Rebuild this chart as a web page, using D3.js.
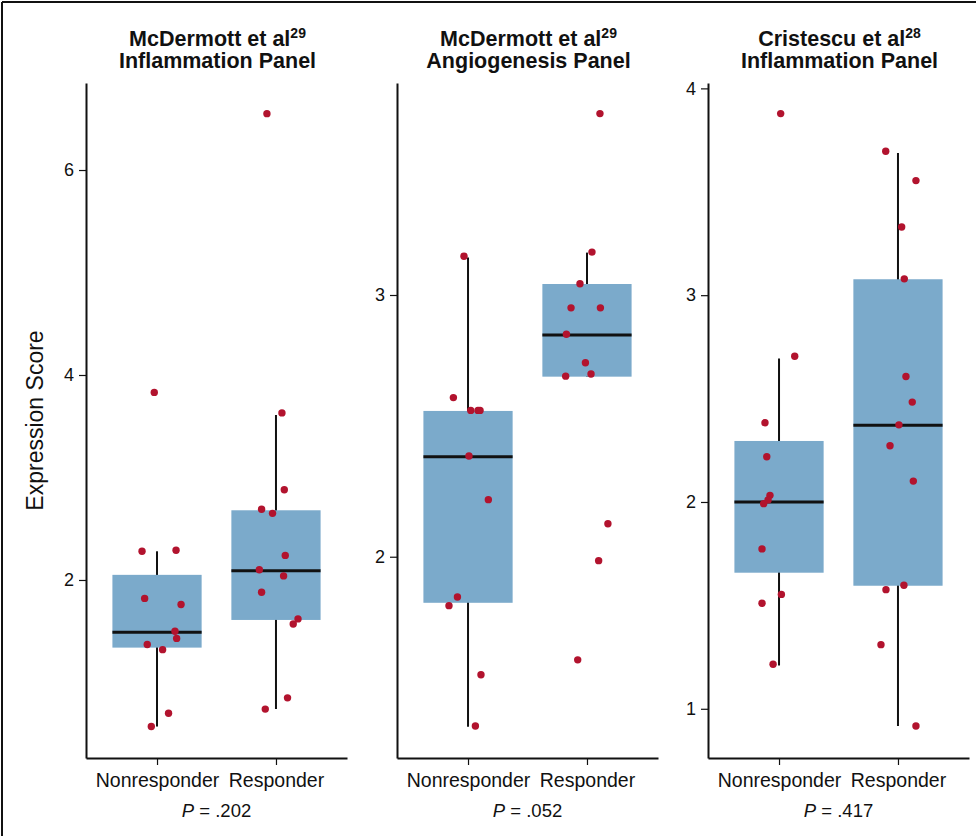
<!DOCTYPE html>
<html>
<head>
<meta charset="utf-8">
<script src="https://cdn.jsdelivr.net/npm/d3@7"></script>
<style>
  body { margin: 0; background: #fff; }
  svg { display: block; font-family: "Liberation Sans", Arial, sans-serif; }
</style>
</head>
<body>
<div id="chart"></div>
<script>
// groups on every panel
var groups = ["Nonresponder", "Responder"]

// panel titles (line 1, superscript ref, line 2) and p values
var titles = [
  ["McDermott et al", "29", "Inflammation Panel"],
  ["McDermott et al", "29", "Angiogenesis Panel"],
  ["Cristescu et al", "28", "Inflammation Panel"]
]
var pValues = [".202", ".052", ".417"]

// y axis limits and tick labels per panel
var yLimits = [[0.263, 6.849], [1.231, 3.810], [0.762, 4.026]]
var yTicks = [[2, 4, 6], [2, 3], [1, 2, 3, 4]]

// box stats: [whisker low, q1, median, q3, whisker high]
var boxNonresponder = [
  [0.57, 1.34, 1.49, 2.05, 2.28],
  [1.35, 1.824, 2.382, 2.557, 3.143],
  [1.209, 1.658, 2.0, 2.295, 2.694]
]
var boxResponder = [
  [0.74, 1.61, 2.09, 2.68, 3.61],
  [2.688, 2.688, 2.847, 3.042, 3.162],
  [0.917, 1.595, 2.371, 3.077, 3.688]
]

// individual scores per panel
var scoresNonresponder = [
  [3.83, 2.28, 2.29, 1.82, 1.76, 1.50, 1.43, 1.37, 1.32, 0.70, 0.57],
  [3.148, 2.608, 2.559, 2.559, 2.559, 2.385, 2.218, 1.846, 1.813, 1.549, 1.353],
  [3.878, 2.705, 2.383, 2.219, 2.032, 2.010, 1.992, 1.773, 1.553, 1.510, 1.215]
]
var scoresResponder = [
  [6.55, 3.63, 2.88, 2.69, 2.65, 2.24, 2.10, 2.04, 1.88, 1.62, 1.57, 0.85, 0.74],
  [3.693, 3.164, 3.043, 2.951, 2.951, 2.850, 2.741, 2.698, 2.690, 2.126, 1.985, 1.606],
  [3.696, 3.554, 3.330, 3.079, 2.607, 2.483, 2.373, 2.272, 2.101, 1.597, 1.576, 1.310, 0.917]
]
// horizontal jitter of each score, in category steps
var jitterNonresponder = [
  [-0.023, -0.126, 0.160, -0.104, 0.202, 0.151, 0.165, -0.082, 0.047, 0.097, -0.048],
  [-0.034, -0.123, 0.023, 0.084, 0.101, 0.008, 0.171, -0.089, -0.160, 0.109, 0.062],
  [0.014, 0.132, -0.118, -0.103, -0.076, -0.092, -0.129, -0.143, 0.020, -0.143, -0.050]
]
var jitterResponder = [
  [-0.076, 0.050, 0.070, -0.121, -0.029, 0.078, -0.140, 0.064, -0.121, 0.185, 0.145, 0.097, -0.090],
  [0.109, 0.042, -0.059, -0.134, 0.113, -0.173, -0.013, 0.034, -0.179, 0.176, 0.098, -0.078],
  [-0.103, 0.151, 0.031, 0.053, 0.067, 0.120, 0.008, -0.067, 0.129, 0.050, -0.101, -0.143, 0.151]
]

var width = 976
var height = 836
var plotTop = 83, plotBottom = 758
var panelLeft = 86, panelStep = 311, panelWidth = 261

var svg = d3.select("#chart").append("svg")
  .attr("width", width)
  .attr("height", height)

// frame lines on top and left
svg.append("line").attr("x1", 2).attr("x2", width).attr("y1", 2).attr("y2", 2)
  .attr("stroke", "#111").attr("stroke-width", 2)
svg.append("line").attr("x1", 2).attr("x2", 2).attr("y1", 2).attr("y2", height)
  .attr("stroke", "#111").attr("stroke-width", 2)

// y axis title
svg.append("text")
  .attr("transform", "translate(43," + (plotTop + plotBottom) / 2 + ") rotate(-90)")
  .attr("text-anchor", "middle")
  .style("font-size", "23px")
  .attr("fill", "#111")
  .text("Expression Score")

titles.forEach(function(t, i) {
  var g = svg.append("g").attr("transform", "translate(" + (panelLeft + i * panelStep) + ",0)")

  var x = d3.scalePoint().domain(groups).range([0, panelWidth]).padding(0.597)
  var y = d3.scaleLinear().domain(yLimits[i]).range([plotBottom, plotTop])
  var boxW = x.step() * 0.75

  // title
  var title = g.append("text")
    .attr("x", panelWidth / 2 + 1)
    .attr("y", 46)
    .attr("text-anchor", "middle")
    .style("font-size", "21.5px")
    .style("font-weight", "bold")
    .attr("fill", "#111")
  title.append("tspan").text(t[0])
  title.append("tspan").attr("dy", -8).style("font-size", "14px").text(t[1])
  g.append("text")
    .attr("x", panelWidth / 2 + 1)
    .attr("y", 68)
    .attr("text-anchor", "middle")
    .style("font-size", "21.5px")
    .style("font-weight", "bold")
    .attr("fill", "#111")
    .text(t[2])

  // boxes
  var boxes = [boxNonresponder[i], boxResponder[i]]
  var bg = g.selectAll(".box").data(boxes).enter().append("g").attr("class", "box")
  bg.append("line")
    .attr("x1", function(d, j) { return x(groups[j]) })
    .attr("x2", function(d, j) { return x(groups[j]) })
    .attr("y1", function(d) { return y(d[0]) })
    .attr("y2", function(d) { return y(d[4]) })
    .attr("stroke", "#111").attr("stroke-width", 2)
  bg.append("rect")
    .attr("x", function(d, j) { return x(groups[j]) - boxW / 2 })
    .attr("width", boxW)
    .attr("y", function(d) { return y(d[3]) })
    .attr("height", function(d) { return y(d[1]) - y(d[3]) })
    .attr("fill", "#7baacb")
  bg.append("line")
    .attr("x1", function(d, j) { return x(groups[j]) - boxW / 2 })
    .attr("x2", function(d, j) { return x(groups[j]) + boxW / 2 })
    .attr("y1", function(d) { return y(d[2]) })
    .attr("y2", function(d) { return y(d[2]) })
    .attr("stroke", "#111").attr("stroke-width", 3)

  // points
  var pts = []
  scoresNonresponder[i].forEach(function(v, k) { pts.push({g: groups[0], v: v, j: jitterNonresponder[i][k]}) })
  scoresResponder[i].forEach(function(v, k) { pts.push({g: groups[1], v: v, j: jitterResponder[i][k]}) })
  g.selectAll(".pt").data(pts).enter().append("circle")
    .attr("class", "pt")
    .attr("cx", function(d) { return x(d.g) + d.j * x.step() })
    .attr("cy", function(d) { return y(d.v) })
    .attr("r", 3.7)
    .attr("fill", "#b2132e")

  // axes
  var yAxis = g.append("g")
    .call(d3.axisLeft(y).tickValues(yTicks[i]).tickFormat(d3.format("d")).tickSize(7).tickSizeOuter(0).tickPadding(5))
  var xAxis = g.append("g")
    .attr("transform", "translate(0," + plotBottom + ")")
    .call(d3.axisBottom(x).tickSize(7).tickSizeOuter(0).tickPadding(8))
  ;[yAxis, xAxis].forEach(function(a) {
    a.select(".domain").attr("stroke", "#111").attr("stroke-width", 2)
    a.selectAll(".tick line").attr("stroke", "#111").attr("stroke-width", 1.2)
    a.selectAll(".tick text").attr("fill", "#111").style("font-family", "Liberation Sans, Arial, sans-serif")
  })
  yAxis.selectAll(".tick text").style("font-size", "18px")
  xAxis.selectAll(".tick text").style("font-size", "19.5px")

  // p value
  var p = g.append("text")
    .attr("x", panelWidth / 2)
    .attr("y", 817)
    .attr("text-anchor", "middle")
    .style("font-size", "18.5px")
    .attr("fill", "#111")
  p.append("tspan").style("font-style", "italic").text("P")
  p.append("tspan").text(" = " + pValues[i])
})
</script>
</body>
</html>
